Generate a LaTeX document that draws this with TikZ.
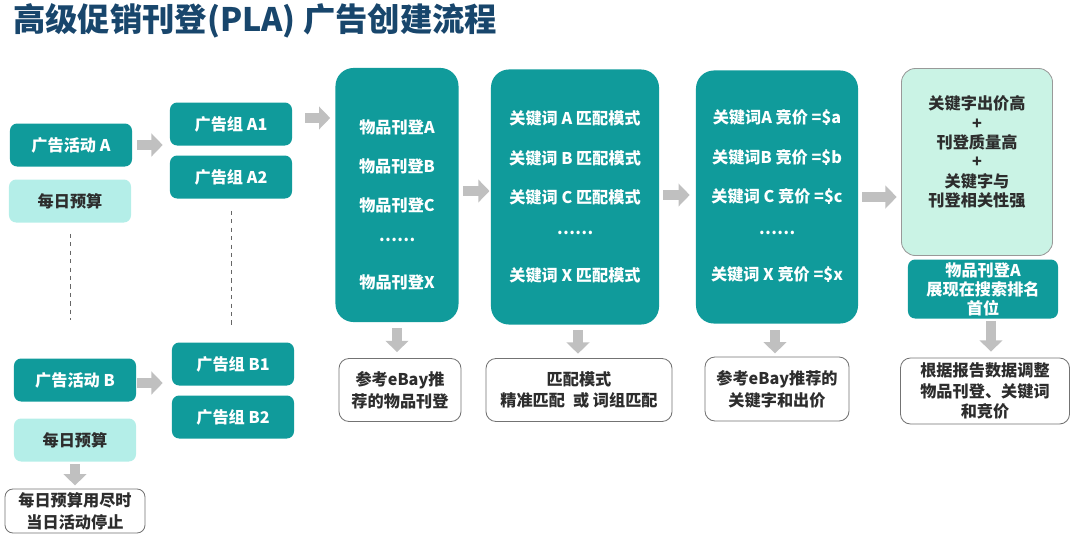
\documentclass[tikz,border=0pt]{standalone}
\usepackage{fontspec}
\setmainfont{Noto Sans CJK SC}
\usetikzlibrary{arrows.meta}
\definecolor{tealbox}{RGB}{16,155,155}
\definecolor{lightteal}{RGB}{180,238,232}
\definecolor{mintbox}{RGB}{202,243,229}
\definecolor{titleblue}{RGB}{24,70,108}
\definecolor{arrowgray}{RGB}{192,192,192}
\definecolor{textgray}{RGB}{45,45,45}
\tikzset{
  box/.style={fill=tealbox, rounded corners=0.18cm, text=white, inner sep=0pt,
    minimum width=3.05cm, minimum height=1.075cm, font=\bfseries\fontsize{11.5}{14}\selectfont},
  budget/.style={box, fill=lightteal, text=textgray},
  bigbox/.style={fill=tealbox, rounded corners=0.45cm, inner sep=0pt},
  boxtext/.style={text=white, inner sep=0pt, font=\bfseries\fontsize{11.5}{14}\selectfont},
  note/.style={draw=black!55, line width=0.6pt, fill=white, rounded corners=0.25cm, inner sep=0pt,
    align=center, text=textgray, font=\bfseries\fontsize{11.5}{15.5}\selectfont},
  grayarrow/.style={draw=arrowgray, line width=0.25cm, -{Triangle[length=0.28cm, width=0.56cm]}},
  sep/.style={draw=black!60, dashed, line width=0.5pt}
}
\begin{document}
\begin{tikzpicture}[x=0.025cm, y=-0.025cm]
    \useasboundingbox (0,0) rectangle (1080,542);
    % Title
    \node[anchor=west, inner sep=0pt, text=titleblue, font=\bfseries\fontsize{23}{28}\selectfont] (title) at (13,21) {高级促销刊登(PLA) 广告创建流程};
    % Campaigns and ad groups
    \node[box] (campA) at (71,145) {广告活动 A};
    \node[budget] (budA) at (70,201) {每日预算};
    \node[box] (grpA1) at (231,124) {广告组 A1};
    \node[box] (grpA2) at (231,177) {广告组 A2};
    \node[box] (campB) at (75,380) {广告活动 B};
    \node[budget] (budB) at (75,440) {每日预算};
    \node[box] (grpB1) at (233,364) {广告组 B1};
    \node[box] (grpB2) at (233,417) {广告组 B2};
    \node[note, minimum width=3.5cm, minimum height=1.1cm, rounded corners=0.2cm] (stop) at (75,511) {每日预算用尽时\\当日活动停止};
    % Dashed separators
    \draw[sep] (budA.south) -- (budA.south |- campB.north) [shorten <=0.275cm, shorten >=0.95cm];
    \draw[sep] (grpA2.south) -- (grpA2.south |- grpB1.north) [shorten <=0.3cm, shorten >=0.425cm];
    % Listings
    \node[bigbox, minimum width=3.075cm, minimum height=6.35cm] (items) at (397,195) {};
    \foreach \y/\txt [count=\i] in {127/物品刊登A, 166/物品刊登B, 205/物品刊登C, 240/……, 282/物品刊登X}
        \node[boxtext] (items-\i) at (397,\y) {\txt};
    % Keywords and match types
    \node[bigbox, minimum width=4.2cm, minimum height=6.375cm] (match) at (575,197) {};
    \foreach \y/\txt [count=\i] in {118/关键词 A 匹配模式, 158/关键词 B 匹配模式, 197/关键词 C 匹配模式, 233/……, 275/关键词 X 匹配模式}
        \node[boxtext] (match-\i) at (575,\y) {\txt};
    % Bids
    \node[bigbox, minimum width=4.05cm, minimum height=6.325cm] (bids) at (777,197) {};
    \foreach \y/\txt [count=\i] in {118/关键词A 竞价 =\$a, 158/关键词B 竞价 =\$b, 197/关键词 C 竞价 =\$c, 233/……, 275/关键词 X 竞价 =\$x}
        \node[boxtext] (bids-\i) at (777,\y) {\txt};
    % Ranking
    \node[fill=mintbox, draw=black!40, line width=0.6pt, rounded corners=0.35cm, minimum width=3.775cm, minimum height=4.675cm] (rank) at (977,162) {};
    \node[align=center, inner sep=0pt, text=textgray, font=\bfseries\fontsize{11.5}{13.8}\selectfont] (ranktxt) at (977,152) {关键字出价高\\+\\刊登质量高\\+\\关键字与\\刊登相关性强};
    \node[box, align=center, minimum width=3.75cm, minimum height=1.475cm, font=\bfseries\fontsize{11.5}{13.5}\selectfont] (top) at (983,289) {物品刊登A\\展现在搜索排名\\首位};
    % Notes
    \node[note, minimum width=3.05cm, minimum height=1.575cm] (note1) at (400,390) {参考eBay推\\荐的物品刊登};
    \node[note, minimum width=4.65cm, minimum height=1.575cm] (note2) at (579,390) {匹配模式\\精准匹配\enspace 或 词组匹配};
    \node[note, minimum width=3.6cm, minimum height=1.6cm] (note3) at (777,389) {参考eBay推荐的\\关键字和出价};
    \node[note, minimum width=4.225cm, minimum height=1.65cm, font=\bfseries\fontsize{11.5}{14.5}\selectfont] (note4) at (985,391) {根据报告数据调整\\物品刊登、关键词\\和竞价};
    % Arrows
    \draw[grayarrow, shorten <=0.125cm, shorten >=0.175cm] (campA.east) -- (campA.east -| grpA1.west);
    \draw[grayarrow, shorten <=0.325cm, shorten >=0.125cm] ([yshift=0.15cm]grpA1.east) -- ([yshift=0.15cm]grpA1.east -| items.west);
    \draw[grayarrow, shorten <=0.1cm, shorten >=0.03cm] ([yshift=0.1cm]items.east) -- ([yshift=0.1cm]items.east -| match.west);
    \draw[grayarrow, shorten <=0.1cm, shorten >=0.15cm] ([yshift=0.05cm]match.east) -- ([yshift=0.05cm]match.east -| bids.west);
    \draw[grayarrow, shorten <=0.1cm, shorten >=0.11cm] (bids.east) -- (bids.east -| rank.west);
    \draw[grayarrow, shorten <=0.03cm, shorten >=0.225cm] ([yshift=-0.075cm]campB.east) -- ([yshift=-0.075cm]campB.east -| grpB1.west);
    \draw[grayarrow, shorten <=0.15cm, shorten >=0.15cm] (items.south) -- (items.south |- note1.north);
    \draw[grayarrow, shorten <=0.14cm, shorten >=0.11cm] ([xshift=0.075cm]match.south) -- ([xshift=0.075cm]match.south |- note2.north);
    \draw[grayarrow, shorten <=0.16cm, shorten >=0.08cm] ([xshift=-0.05cm]bids.south) -- ([xshift=-0.05cm]bids.south |- note3.north);
    \draw[grayarrow, shorten <=0.05cm, shorten >=0.15cm] ([xshift=0.2cm]top.south) -- ([xshift=0.2cm]top.south |- note4.north);
    \draw[grayarrow, shorten <=0.05cm, shorten >=0.08cm] (budB.south) -- (budB.south |- stop.north);
\end{tikzpicture}
\end{document}
